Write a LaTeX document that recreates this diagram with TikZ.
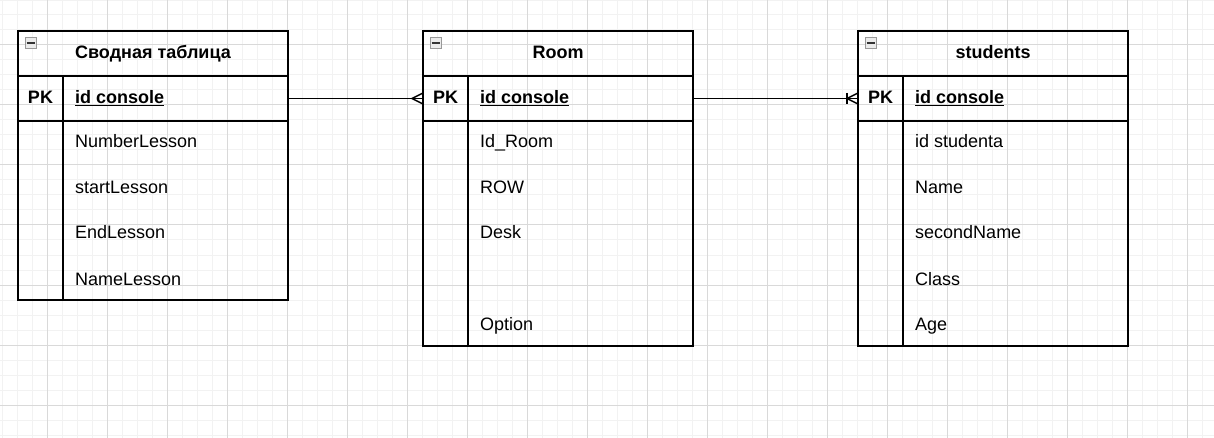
\documentclass[tikz,border=0pt]{standalone}
\usepackage{fontspec}
\setmainfont{Liberation Sans}
\usetikzlibrary{calc}
\definecolor{gridminor}{HTML}{F2F2F2}
\definecolor{gridmajor}{HTML}{D9D9D9}
\def\minusbox(#1){\draw[line width=1pt, color=black!40, fill=black!8] ($(#1)+(-5.5,-5.5)$) rectangle ($(#1)+(5.5,5.5)$); \draw[line width=2.2pt, color=black!80] ($(#1)+(-4,0)$) -- ($(#1)+(4,0)$);}
\tikzset{
	tbl/.style={line width=1.5pt, color=black},
	rowbox/.style={draw, line width=1.5pt, anchor=north west, minimum width=270pt, minimum height=45pt, inner sep=0pt, outer sep=0pt},
	ttl/.style={anchor=base, font=\bfseries},
	pkkey/.style={anchor=base, font=\bfseries},
	attr/.style={anchor=base west, inner sep=0pt},
	rel/.style={line width=1.5pt, color=black}
}

\begin{document}
\fontsize{18}{21.6}\selectfont%
\begin{tikzpicture}[x=1pt, y=-1pt]
			%%%%% START %%%%%
			
			\useasboundingbox[fill=white] (0,0) rectangle (1214,438);
			
			\begin{scope}[shift={(2,0)}]
				\draw[line width=1pt, color=gridminor] (-2,438) grid[step=15pt] (1212,0);
			\end{scope}
			\begin{scope}[shift={(47,45)}]
				\draw[line width=1pt, color=gridmajor] (-47,393) grid[step=60pt] (1167,-45);
			\end{scope}
			
			% Сводная таблица
			\node[rowbox] (sumhead) at (18,31) {};
			\node[rowbox] (sumpk) at (18,76) {};
			\draw[tbl] (18,31) rectangle (288,300);
			\draw[tbl] (63,76) -- (63,300);
			\minusbox(30.5,43)
			\node[ttl] (sumtitle) at (153,58.5) {Сводная таблица};
			\node[pkkey] (sumkey) at (40.5,103.5) {PK};
			\node[attr, font=\bfseries] (sumid) at (75,103.5) {\underline{id console}};
			\node[attr] (sumnum) at (75,148) {NumberLesson};
			\node[attr] (sumstart) at (75,193.5) {startLesson};
			\node[attr] (sumend) at (75,239) {EndLesson};
			\node[attr] (sumname) at (75,285) {NameLesson};
			
			% Room
			\node[rowbox] (roomhead) at (423,31) {};
			\node[rowbox] (roompk) at (423,76) {};
			\draw[tbl] (423,31) rectangle (693,346);
			\draw[tbl] (468,76) -- (468,346);
			\minusbox(435.5,43)
			\node[ttl] (roomtitle) at (558,58.5) {Room};
			\node[pkkey] (roomkey) at (445.5,103.5) {PK};
			\node[attr, font=\bfseries] (roomid) at (480,103.5) {\underline{id console}};
			\node[attr] (roomidroom) at (480,148) {Id\_Room};
			\node[attr] (roomrow) at (480,193.5) {ROW};
			\node[attr] (roomdesk) at (480,239) {Desk};
			\node[attr] (roomoption) at (480,330.5) {Option};
			
			% students
			\node[rowbox] (studhead) at (858,31) {};
			\node[rowbox] (studpk) at (858,76) {};
			\draw[tbl] (858,31) rectangle (1128,346);
			\draw[tbl] (903,76) -- (903,346);
			\minusbox(870.5,43)
			\node[ttl] (studtitle) at (993,58.5) {students};
			\node[pkkey] (studkey) at (880.5,103.5) {PK};
			\node[attr, font=\bfseries] (studid) at (915,103.5) {\underline{id console}};
			\node[attr] (studidst) at (915,148) {id studenta};
			\node[attr] (studname) at (915,193.5) {Name};
			\node[attr] (studsecond) at (915,239) {secondName};
			\node[attr] (studclass) at (915,285) {Class};
			\node[attr] (studage) at (915,330.5) {Age};
			
			% relations
			\draw[rel] (sumpk.east) -- (roompk.west);
			\draw[rel] ($(roompk.west)+(0,-5.5)$) -- ($(roompk.west)+(-11,0)$) -- ($(roompk.west)+(0,5.5)$);
			
			\draw[rel] (roompk.east) -- (studpk.west);
			\draw[rel] ($(studpk.west)+(-11,-5.5)$) -- ($(studpk.west)+(-11,5.5)$);
			\draw[rel] ($(studpk.west)+(0,-5.5)$) -- ($(studpk.west)+(-11,0)$) -- ($(studpk.west)+(0,5.5)$);
			
			%%%%% END %%%%%
\end{tikzpicture}
\end{document}
